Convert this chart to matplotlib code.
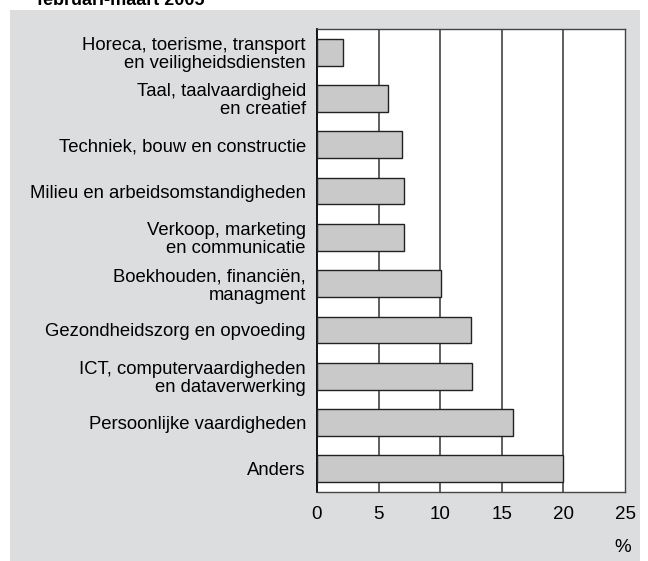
import matplotlib.pyplot as plt
from matplotlib.patches import Rectangle

plt.rcParams['font.family'] = ['Liberation Sans', 'DejaVu Sans']

categories = [
    "Horeca, toerisme, transport\nen veiligheidsdiensten",
    "Taal, taalvaardigheid\nen creatief",
    "Techniek, bouw en constructie",
    "Milieu en arbeidsomstandigheden",
    "Verkoop, marketing\nen communicatie",
    "Boekhouden, financiën,\nmanagment",
    "Gezondheidszorg en opvoeding",
    "ICT, computervaardigheden\nen dataverwerking",
    "Persoonlijke vaardigheden",
    "Anders",
]
values = [2.1, 5.8, 6.9, 7.1, 7.1, 10.1, 12.5, 12.6, 15.9, 20.0]
xticks = [0, 5, 10, 15, 20, 25]

W, H = 648, 561
fig = plt.figure(figsize=(W / 100, H / 100), dpi=100)
fig.patch.set_facecolor("white")

# grey panel behind the chart
fig.patches.append(Rectangle((10 / W, 0), 630 / W, 551 / H,
                             transform=fig.transFigure, facecolor="#dcdddf",
                             edgecolor="none", zorder=-10))
fig.text(37 / W, 1 - 5 / H, "februari-maart 2005", fontsize=13,
         fontweight="bold", va="baseline", ha="left")

ax = fig.add_axes([317 / W, 1 - 492 / H, 308 / W, 463 / H])
ax.set_facecolor("white")

y = list(range(len(categories)))
ax.barh(y, values, height=0.58, color="#c9c9c9", edgecolor="#222222",
        linewidth=1.0, zorder=3)

ax.set_xlim(0, 25)
ax.set_ylim(len(categories) - 0.5, -0.5)
ax.set_xticks(xticks)
ax.set_xticklabels([str(t) for t in xticks], fontsize=13.5)
ax.set_yticks(y)
ax.set_yticklabels(categories, fontsize=13.3, linespacing=1.08)
ax.tick_params(length=0, pad=8)
ax.tick_params(axis="x", pad=10)

for t in xticks[1:-1]:
    ax.axvline(t, color="#333333", linewidth=1.1, zorder=2)

ax.spines["left"].set_color("black")
ax.spines["left"].set_linewidth(1.3)
for s in ("top", "right", "bottom"):
    ax.spines[s].set_color("#444444")
    ax.spines[s].set_linewidth(1.0)

fig.text(623 / W, 1 - 547 / H, "%", fontsize=13.5, ha="center", va="center")

fig.savefig("out.png", dpi=100)
